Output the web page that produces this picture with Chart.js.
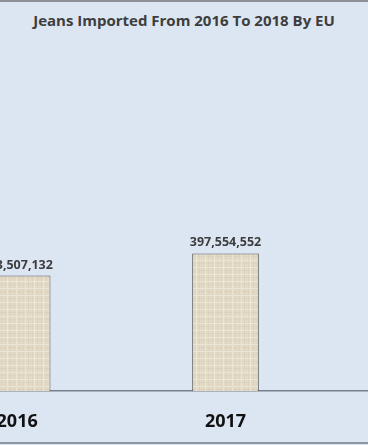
<!DOCTYPE html>
<html>
<head>
<meta charset="utf-8">
<script src="https://cdn.jsdelivr.net/npm/chart.js@4.4.1/dist/chart.umd.min.js"></script>
<style>
  html, body { margin: 0; padding: 0; }
  body { width: 368px; height: 445px; overflow: hidden; background: #dce6f2; position: relative; font-family: "Open Sans", sans-serif; }
  #frameTop { position: absolute; left: 0; top: 0; width: 368px; height: 2px; background: #8c8f94; }
  #frameBottom { position: absolute; left: 0; top: 442px; width: 368px; height: 2px; background: #8d97a3; }
  #title { position: absolute; left: 0; top: 10px; width: 368px; text-align: center; font-weight: bold; font-size: 15px; color: #3d3d3d; }
  #chart { position: absolute; left: -87px; top: 0; }
</style>
</head>
<body>
<div id="frameTop"></div>
<div id="title">Jeans Imported From 2016 To 2018 By EU</div>
<canvas id="chart" width="720" height="445"></canvas>
<div id="frameBottom"></div>
<script>
const years = ["2016", "2017", "2018"];
// 2016 label is cut off on the left, 2018 bar sits outside the picture (estimate)
const imports = [333507132, 397554552, 420000000];
const yMax = 1000000000;

// burlap-like fill for the bars
function burlap() {
  const c = document.createElement("canvas");
  c.width = 9; c.height = 7;
  const g = c.getContext("2d");
  g.fillStyle = "#e3dac6";
  g.fillRect(0, 0, 9, 7);
  g.fillStyle = "#dcd2bd";
  g.fillRect(2, 0, 1, 7);
  g.fillRect(7, 0, 1, 7);
  g.fillRect(0, 4, 9, 1);
  g.fillStyle = "#ebe5d6";
  g.fillRect(4, 0, 1, 7);
  g.fillRect(0, 1, 9, 1);
  return g.createPattern(c, "repeat");
}

const valueLabels = {
  id: "valueLabels",
  afterDatasetsDraw(chart) {
    const ctx = chart.ctx;
    const meta = chart.getDatasetMeta(0);
    ctx.save();
    ctx.font = "bold 12.5px 'Open Sans'";
    ctx.fillStyle = "#3d3d3d";
    ctx.textAlign = "center";
    ctx.textBaseline = "alphabetic";
    meta.data.forEach((bar, i) => {
      ctx.fillText(imports[i].toLocaleString("en-US"), bar.x, bar.y - 7);
    });
    ctx.restore();
  }
};

const ctx = document.getElementById("chart").getContext("2d");
new Chart(ctx, {
  type: "bar",
  data: {
    labels: years,
    datasets: [{
      data: imports,
      backgroundColor: burlap(),
      borderColor: "#5a5a5a",
      borderWidth: 1,
      barPercentage: 0.32,
      categoryPercentage: 1
    }]
  },
  options: {
    responsive: false,
    animation: false,
    layout: { padding: { left: 0, right: 95, top: 45, bottom: 0 } },
    plugins: { legend: { display: false }, title: { display: false }, tooltip: { enabled: false } },
    scales: {
      x: {
        grid: { display: false, drawTicks: false },
        border: { display: true, color: "#76808c", width: 1.5 },
        ticks: { color: "#111111", font: { family: "Open Sans", size: 18, weight: "bold" }, padding: 20 },
        afterFit(scale) { scale.height = 54; }
      },
      y: {
        display: false,
        min: 0,
        max: yMax
      }
    }
  },
  plugins: [valueLabels]
});
</script>
</body>
</html>
